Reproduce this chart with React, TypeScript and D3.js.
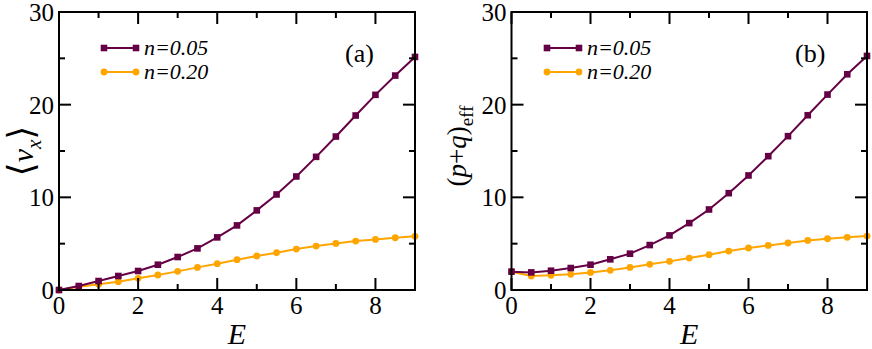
import React from "react";
import * as d3 from "d3";

const E = [0, 0.5, 1, 1.5, 2, 2.5, 3, 3.5, 4, 4.5, 5, 5.5, 6, 6.5, 7, 7.5, 8, 8.5, 9];
const vx05 = [0, 0.43, 0.97, 1.51, 2.05, 2.73, 3.56, 4.49, 5.68, 6.97, 8.59, 10.31, 12.25, 14.37, 16.56, 18.83, 21.06, 23.14, 25.15];
const vx20 = [0, 0.36, 0.61, 0.9, 1.26, 1.62, 2.01, 2.44, 2.84, 3.27, 3.67, 4.02, 4.42, 4.74, 5.03, 5.28, 5.46, 5.64, 5.79];
const pq05 = [1.98, 1.9, 2.08, 2.37, 2.73, 3.31, 3.92, 4.85, 5.89, 7.22, 8.69, 10.45, 12.36, 14.44, 16.6, 18.86, 21.09, 23.28, 25.26];
const pq20 = [1.98, 1.51, 1.58, 1.69, 1.9, 2.12, 2.44, 2.77, 3.09, 3.45, 3.81, 4.2, 4.53, 4.81, 5.07, 5.35, 5.53, 5.68, 5.82];
const xMajor = [0, 2, 4, 6, 8];
const xMinor = [1, 3, 5, 7, 9];
const yMajor = [0, 10, 20, 30];
const yMinor = [5, 15, 25];
const seriesLabels = ["n=0.05", "n=0.20"];

const PURPLE = "#660044";
const ORANGE = "#ffa500";
const FONT = "Liberation Serif, Tinos, DejaVu Serif, serif";

type PanelProps = {
  x0: number;
  x1: number;
  s05: number[];
  s20: number[];
  tag: string;
  tagX: number;
  legX: number;
  ylabel: React.ReactNode;
};

function Panel({ x0, x1, s05, s20, tag, tagX, legX, ylabel }: PanelProps) {
  const top = 12;
  const bottom = 290;
  const xs = d3.scaleLinear().domain([0, 9]).range([x0, x1]);
  const ys = d3.scaleLinear().domain([0, 30]).range([bottom, top]);
  const line = (vals: number[]) =>
    d3.line<number>().x((_, i) => xs(E[i])).y((v) => ys(v))(vals) || "";
  const tk = "#000";
  return (
    <g>
      <path d={line(s20)} fill="none" stroke={ORANGE} strokeWidth={2} />
      {s20.map((v, i) => (
        <circle key={"c" + i} cx={xs(E[i])} cy={ys(v)} r={3.4} fill={ORANGE} />
      ))}
      <path d={line(s05)} fill="none" stroke={PURPLE} strokeWidth={2} />
      {s05.map((v, i) => (
        <rect key={"r" + i} x={xs(E[i]) - 3.3} y={ys(v) - 3.3} width={6.6} height={6.6} fill={PURPLE} />
      ))}
      <rect x={x0} y={top} width={x1 - x0} height={bottom - top} fill="none" stroke={tk} strokeWidth={2} />
      {xMajor.map((t) => (
        <g key={"xM" + t}>
          <line x1={xs(t)} x2={xs(t)} y1={bottom} y2={bottom - 12} stroke={tk} strokeWidth={2} />
          <line x1={xs(t)} x2={xs(t)} y1={top} y2={top + 12} stroke={tk} strokeWidth={2} />
          <text x={xs(t)} y={314} textAnchor="middle" fontSize={25}>{t}</text>
        </g>
      ))}
      {xMinor.map((t) => (
        <g key={"xm" + t}>
          <line x1={xs(t)} x2={xs(t)} y1={bottom} y2={bottom - 6} stroke={tk} strokeWidth={2} />
          <line x1={xs(t)} x2={xs(t)} y1={top} y2={top + 6} stroke={tk} strokeWidth={2} />
        </g>
      ))}
      {yMajor.map((t) => (
        <g key={"yM" + t}>
          <line x1={x0} x2={x0 + 12} y1={ys(t)} y2={ys(t)} stroke={tk} strokeWidth={2} />
          <line x1={x1} x2={x1 - 12} y1={ys(t)} y2={ys(t)} stroke={tk} strokeWidth={2} />
          <text x={x0 - 5} y={ys(t) + 9} textAnchor="end" fontSize={25}>{t}</text>
        </g>
      ))}
      {yMinor.map((t) => (
        <g key={"ym" + t}>
          <line x1={x0} x2={x0 + 6} y1={ys(t)} y2={ys(t)} stroke={tk} strokeWidth={2} />
          <line x1={x1} x2={x1 - 6} y1={ys(t)} y2={ys(t)} stroke={tk} strokeWidth={2} />
        </g>
      ))}
      <text x={(x0 + x1) / 2} y={344} textAnchor="middle" fontSize={30} fontStyle="italic">E</text>
      <line x1={legX} x2={legX + 32} y1={48} y2={48} stroke={PURPLE} strokeWidth={2} />
      <rect x={legX - 3.3} y={48 - 3.3} width={6.6} height={6.6} fill={PURPLE} />
      <rect x={legX + 32 - 3.3} y={48 - 3.3} width={6.6} height={6.6} fill={PURPLE} />
      <text x={legX + 40} y={55} fontSize={22} fontStyle="italic">{seriesLabels[0]}</text>
      <line x1={legX} x2={legX + 32} y1={72} y2={72} stroke={ORANGE} strokeWidth={2} />
      <circle cx={legX} cy={72} r={3.4} fill={ORANGE} />
      <circle cx={legX + 32} cy={72} r={3.4} fill={ORANGE} />
      <text x={legX + 40} y={79} fontSize={22} fontStyle="italic">{seriesLabels[1]}</text>
      <text x={tagX} y={62} fontSize={26}>{tag}</text>
      {ylabel}
    </g>
  );
}

export default function App() {
  const ylabelA = (
    <text transform="translate(33,151) rotate(-90)" textAnchor="middle" fontSize={30}>
      <tspan fontSize={36} fontFamily="DejaVu Serif, serif" fontWeight={200}>⟨</tspan>
      <tspan fontStyle="italic">v</tspan>
      <tspan fontStyle="italic" fontSize={21} dy={8}>x</tspan>
      <tspan fontSize={36} dy={-8} fontFamily="DejaVu Serif, serif" fontWeight={200}>⟩</tspan>
    </text>
  );
  const ylabelB = (
    <text transform="translate(466,146) rotate(-90)" textAnchor="middle" fontSize={27}>
      <tspan>(</tspan>
      <tspan fontStyle="italic">p</tspan>
      <tspan>+</tspan>
      <tspan fontStyle="italic">q</tspan>
      <tspan>)</tspan>
      <tspan fontSize={19} dy={7}>eff</tspan>
    </text>
  );
  return (
    <div>
      <style>{`body{margin:0} svg text{font-family:"Liberation Serif","Tinos","DejaVu Serif",serif}`}</style>
      <svg width={872} height={349} style={{ display: "block", background: "#fff" }} fontFamily={FONT}>
        <Panel x0={59} x1={415} s05={vx05} s20={vx20} tag="(a)" tagX={345} legX={104} ylabel={ylabelA} />
        <Panel x0={511.5} x1={867} s05={pq05} s20={pq20} tag="(b)" tagX={795} legX={547} ylabel={ylabelB} />
      </svg>
    </div>
  );
}
